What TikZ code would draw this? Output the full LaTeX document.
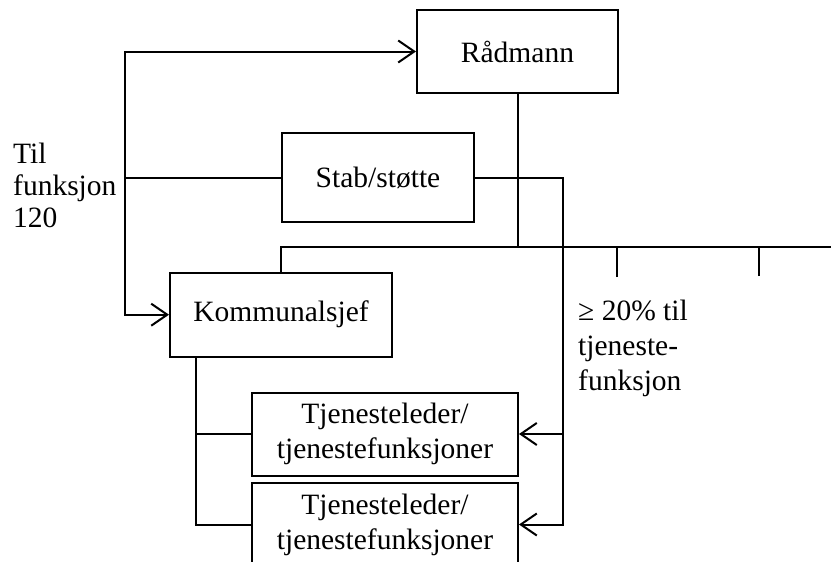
\documentclass[tikz,border=0pt]{standalone}
\usepackage{fontspec}
\setmainfont{Liberation Serif}
\usetikzlibrary{arrows.meta, calc, positioning}
\tikzset{
  % Connector line style
  garr/.style={
    line width = 2pt
  },
  % Open arrow head at the start / at both ends
  rarr/.style={
    garr, {Straight Barb[length=16pt,width=22pt]}-
  },
  darr/.style={
    garr, {Straight Barb[length=16pt,width=22pt]}-{Straight Barb[length=16pt,width=22pt]}
  },
}

\begin{document}
\begin{tikzpicture}
          [x=1pt, y=-1pt,
           box/.style={draw, line width=2pt, inner sep=0pt, align=center,
                       font=\fontsize{29.5}{35}\selectfont},
           txt/.style={inner sep=0pt, align=left, anchor=base west,
                       font=\fontsize{29.5}{32}\selectfont}
          ]
          \useasboundingbox (0,0) rectangle (831,562);
          \clip (0,0) rectangle (831,562);

          % Boxes
          \node (rad) [box, minimum width=201pt, minimum height=83pt]
                at (517.5,51.5) {Rådmann};
          \node (stab) [box, minimum width=192pt, minimum height=89pt]
                at (378,177.5) {Stab/støtte};
          \node (kom) [box, minimum width=222pt, minimum height=84pt]
                at (281,314.7) {Kommunalsjef};
          \node (tjen1) [box, minimum width=266pt, minimum height=83pt]
                at (385,434) {Tjenesteleder/\\tjenestefunksjoner};
          \node (tjen2) [box, minimum width=266pt, minimum height=83pt]
                at (385,524.5) {Tjenesteleder/\\tjenestefunksjoner};

          % Side texts (anchored at the last baseline)
          \node (til) [txt] at (13,227) {Til\\funksjon\\120};
          \node (pst) [txt, font=\fontsize{29.5}{35}\selectfont]
                at (578,390) {≥ 20\% til\\tjeneste-\\funksjon};

          % Helper coordinates
          \coordinate (spine) at (125,0);
          \coordinate (bus) at (0,247);
          \coordinate (busend) at (840,247);
          \coordinate (t1) at (617,277);
          \coordinate (t2) at (759,276);
          \coordinate (sr) at (563,0);
          \coordinate (kl) at (196,0);

          % Til funksjon 120
          \draw[darr] (kom.west) -- (spine |- kom.west)
                      -- (spine |- rad.west) -- (rad.west);
          \draw[garr] (spine |- stab.west) -- (stab.west);

          % Rådmann to the line of units
          \draw[garr] (rad.south) -- (rad.south |- bus);
          \draw[garr] (kom.north) -- (kom.north |- bus) -- (busend);
          \draw[garr] (t1) -- (t1 |- bus);
          \draw[garr] (t2) -- (t2 |- bus);

          % Stab/støtte to service functions
          \draw[rarr] (tjen2.east) -- (sr |- tjen2.east)
                      -- (sr |- stab.east) -- (stab.east);
          \draw[rarr] (tjen1.east) -- (sr |- tjen1.east);

          % Kommunalsjef to service leaders
          \draw[garr] (kom.south -| kl) -- (kl |- tjen2.west) -- (tjen2.west);
          \draw[garr] (kl |- tjen1.west) -- (tjen1.west);
      \end{tikzpicture}
\end{document}
